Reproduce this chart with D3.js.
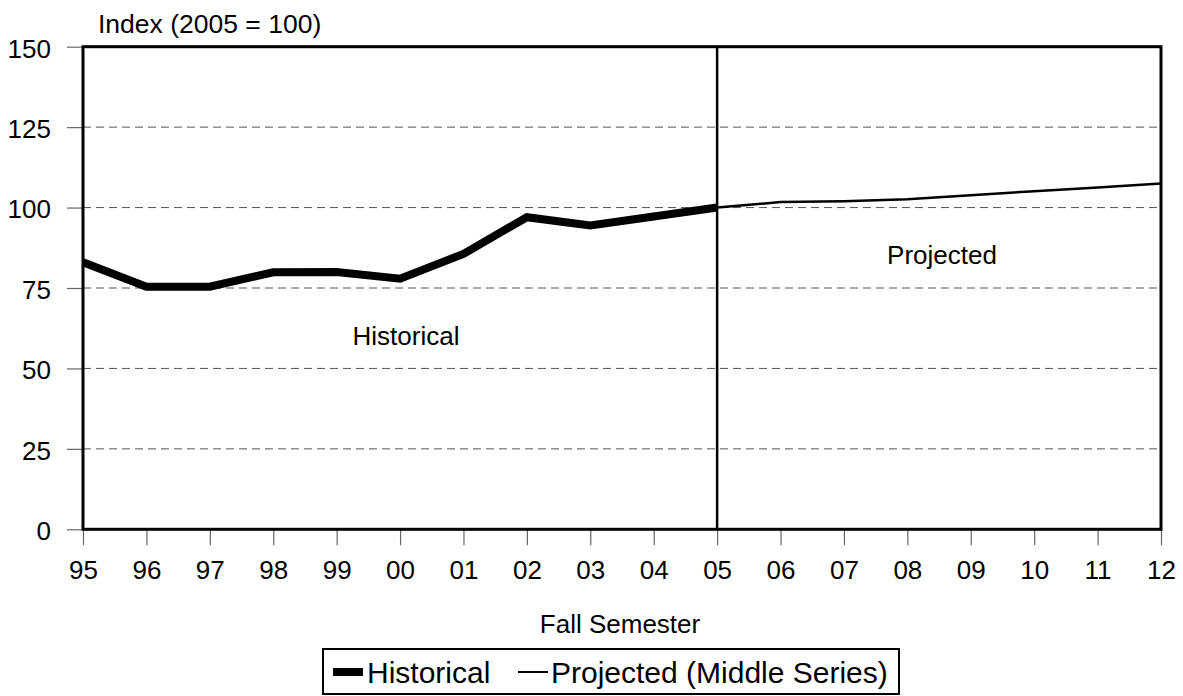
<!DOCTYPE html>
<html>
<head>
<meta charset="utf-8">
<script src="https://cdn.jsdelivr.net/npm/d3@7"></script>
<style>
  html, body { margin: 0; padding: 0; background: #fff; }
  svg { display: block; font-family: "Liberation Sans", Arial, sans-serif; }
</style>
</head>
<body>
<svg id="chart" width="1183" height="696"></svg>
<script>
// ---- Data ----
const yearLabels = ["95","96","97","98","99","00","01","02","03","04","05","06","07","08","09","10","11","12"];
const historicalYears = ["95","96","97","98","99","00","01","02","03","04","05"];
const historicalValues = [83.0, 75.4, 75.4, 79.9, 80.0, 77.9, 85.6, 97.0, 94.4, 97.2, 100.0];
const projectedYears = ["05","06","07","08","09","10","11","12"];
const projectedValues = [100.0, 101.7, 102.0, 102.6, 103.8, 105.1, 106.2, 107.5];
const yTicks = [0, 25, 50, 75, 100, 125, 150];
const dividerYear = "05";

// ---- Layout ----
const svg = d3.select("#chart");
const pLeft = 83, pRight = 1161, pTop = 46.7, pBottom = 529.3;
const FONT = "Liberation Sans, Arial, sans-serif";

const x = d3.scalePoint().domain(yearLabels).range([pLeft, pRight]);
const y = d3.scaleLinear().domain([0, 150]).range([pBottom, pTop]);

// Gridlines
svg.append("g").selectAll("line")
  .data(yTicks.filter(d => d > 0 && d < 150))
  .join("line")
  .attr("x1", pLeft).attr("x2", pRight)
  .attr("y1", d => y(d)).attr("y2", d => y(d))
  .attr("stroke", "#555").attr("stroke-width", 1)
  .attr("stroke-dasharray", "8,5");

// Y axis
const yAxis = d3.axisLeft(y).tickValues(yTicks).tickSize(16).tickPadding(16);
const gy = svg.append("g").attr("transform", `translate(${pLeft},0)`).call(yAxis);
gy.select(".domain").remove();
gy.selectAll(".tick line").attr("stroke", "#666").attr("stroke-width", 1.2);
gy.selectAll(".tick text").attr("font-size", 26).attr("fill", "#000")
  .attr("font-family", FONT).attr("dy", "0.4em");

// X axis
const xAxis = d3.axisBottom(x).tickSize(16).tickPadding(15);
const gx = svg.append("g").attr("transform", `translate(0,${pBottom})`).call(xAxis);
gx.select(".domain").remove();
gx.selectAll(".tick line").attr("stroke", "#666").attr("stroke-width", 1.2);
gx.selectAll(".tick text").attr("font-size", 26).attr("fill", "#000")
  .attr("font-family", FONT);

// Plot frame
svg.append("rect")
  .attr("x", pLeft).attr("y", pTop)
  .attr("width", pRight - pLeft).attr("height", pBottom - pTop)
  .attr("fill", "none").attr("stroke", "#000").attr("stroke-width", 3);

// Divider line
svg.append("line")
  .attr("x1", x(dividerYear)).attr("x2", x(dividerYear))
  .attr("y1", pTop).attr("y2", pBottom)
  .attr("stroke", "#000").attr("stroke-width", 2.5);

// Lines
const line = d3.line().x(d => x(d[0])).y(d => y(d[1]));
svg.append("path")
  .datum(historicalYears.map((yr, i) => [yr, historicalValues[i]]))
  .attr("d", line).attr("fill", "none")
  .attr("stroke", "#000").attr("stroke-width", 8).attr("stroke-linejoin", "miter");
svg.append("path")
  .datum(projectedYears.map((yr, i) => [yr, projectedValues[i]]))
  .attr("d", line).attr("fill", "none")
  .attr("stroke", "#000").attr("stroke-width", 2.5);

// Texts
svg.append("text").attr("x", 98).attr("y", 33).attr("font-size", 26.5).text("Index (2005 = 100)");
svg.append("text").attr("x", 406).attr("y", 345).attr("font-size", 26)
  .attr("text-anchor", "middle").text("Historical");
svg.append("text").attr("x", 942).attr("y", 264).attr("font-size", 26)
  .attr("text-anchor", "middle").text("Projected");
svg.append("text").attr("x", 620).attr("y", 633).attr("font-size", 26)
  .attr("text-anchor", "middle").text("Fall Semester");

// Legend
const lg = svg.append("g");
lg.append("rect").attr("x", 323).attr("y", 649).attr("width", 576).attr("height", 45)
  .attr("fill", "#fff").attr("stroke", "#000").attr("stroke-width", 2);
lg.append("line").attr("x1", 333).attr("x2", 363).attr("y1", 672).attr("y2", 672)
  .attr("stroke", "#000").attr("stroke-width", 8);
lg.append("text").attr("x", 367).attr("y", 683).attr("font-size", 30).text("Historical");
lg.append("line").attr("x1", 518).attr("x2", 548).attr("y1", 672).attr("y2", 672)
  .attr("stroke", "#000").attr("stroke-width", 2);
lg.append("text").attr("x", 551).attr("y", 683).attr("font-size", 30).text("Projected (Middle Series)");
</script>
</body>
</html>
